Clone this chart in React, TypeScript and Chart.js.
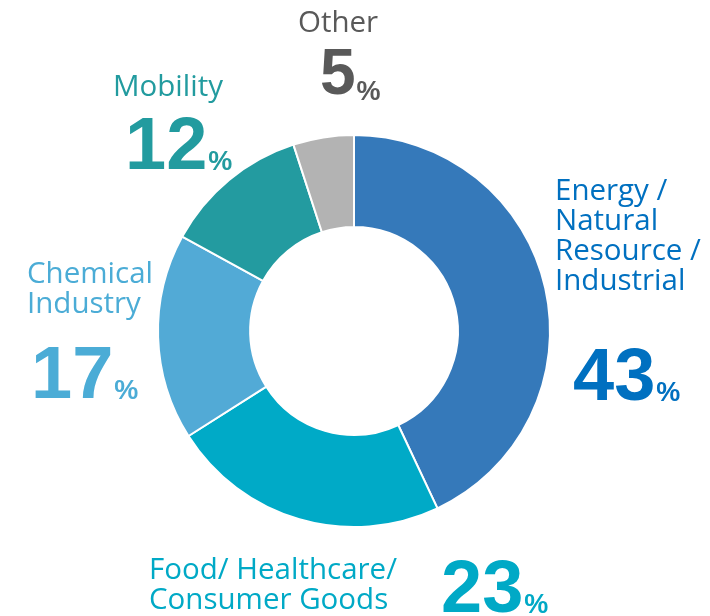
import React, { useEffect, useRef } from "react";
import { Chart, registerables } from "chart.js";

Chart.register(...registerables);

const categories = [
  "Energy / Natural Resource / Industrial",
  "Food/ Healthcare/ Consumer Goods",
  "Chemical Industry",
  "Mobility",
  "Other",
];
const shares = [43, 23, 17, 12, 5];
const sliceColors = ["#3579BA", "#00AAC7", "#52AAD6", "#239BA0", "#B3B3B3"];
const textColors = ["#0070C0", "#00A9C6", "#4BACD6", "#229B9F", "#595959"];
const labelLines = [
  ["Energy /", "Natural", "Resource /", "Industrial"],
  ["Food/ Healthcare/", "Consumer Goods"],
  ["Chemical", "Industry"],
  ["Mobility"],
  ["Other"],
];

// label layout: text block left x, first baseline, line height; number left x, baseline, size
const labelLayout = [
  { tx: 555, ty: 200, lh: 30, nx: 573, ny: 400, ns: 74 },
  { tx: 149, ty: 579, lh: 30, nx: 441, ny: 612, ns: 74 },
  { tx: 27, ty: 283, lh: 30, nx: 31, ny: 398, ns: 74 },
  { tx: 113, ty: 96, lh: 30, nx: 125, ny: 169, ns: 74 },
  { tx: 298, ty: 32, lh: 30, nx: 320, ny: 94, ns: 64 },
];

const labelFont = '29.5px "Open Sans", sans-serif';

const labelsPlugin = {
  id: "customLabels",
  afterDraw(chart: any) {
    const ctx = chart.ctx as CanvasRenderingContext2D;
    ctx.save();
    ctx.textBaseline = "alphabetic";
    ctx.textAlign = "left";
    categories.forEach((_, i) => {
      const L = labelLayout[i];
      ctx.fillStyle = textColors[i];
      ctx.font = labelFont;
      labelLines[i].forEach((line, j) => {
        ctx.fillText(line, L.tx, L.ty + j * L.lh);
      });
      ctx.font = `bold ${L.ns}px "Liberation Sans", Arial, sans-serif`;
      const num = String(shares[i]);
      ctx.fillText(num, L.nx, L.ny);
      const w = ctx.measureText(num).width;
      ctx.font = 'bold 27px "Liberation Sans", Arial, sans-serif';
      ctx.fillText("%", L.nx + w + 1, L.ny === 94 ? 100 : L.ny + 1);
    });
    ctx.restore();
  },
};

export default function App() {
  const ref = useRef<HTMLCanvasElement>(null);
  useEffect(() => {
    document.body.style.margin = "0";
    if (!ref.current) return;
    const chart = new Chart(ref.current, {
      type: "doughnut",
      data: {
        labels: categories,
        datasets: [
          {
            data: shares,
            backgroundColor: sliceColors,
            borderColor: "#FFFFFF",
            borderWidth: 2,
          },
        ],
      },
      options: {
        responsive: false,
        animation: false,
        cutout: "53%",
        layout: { padding: { left: 157, right: 159, top: 134, bottom: 88 } },
        plugins: {
          legend: { display: false },
          tooltip: { enabled: false },
        },
      },
      plugins: [labelsPlugin],
    });
    return () => chart.destroy();
  }, []);
  return <canvas ref={ref} width={710} height={616} style={{ display: "block" }} />;
}
